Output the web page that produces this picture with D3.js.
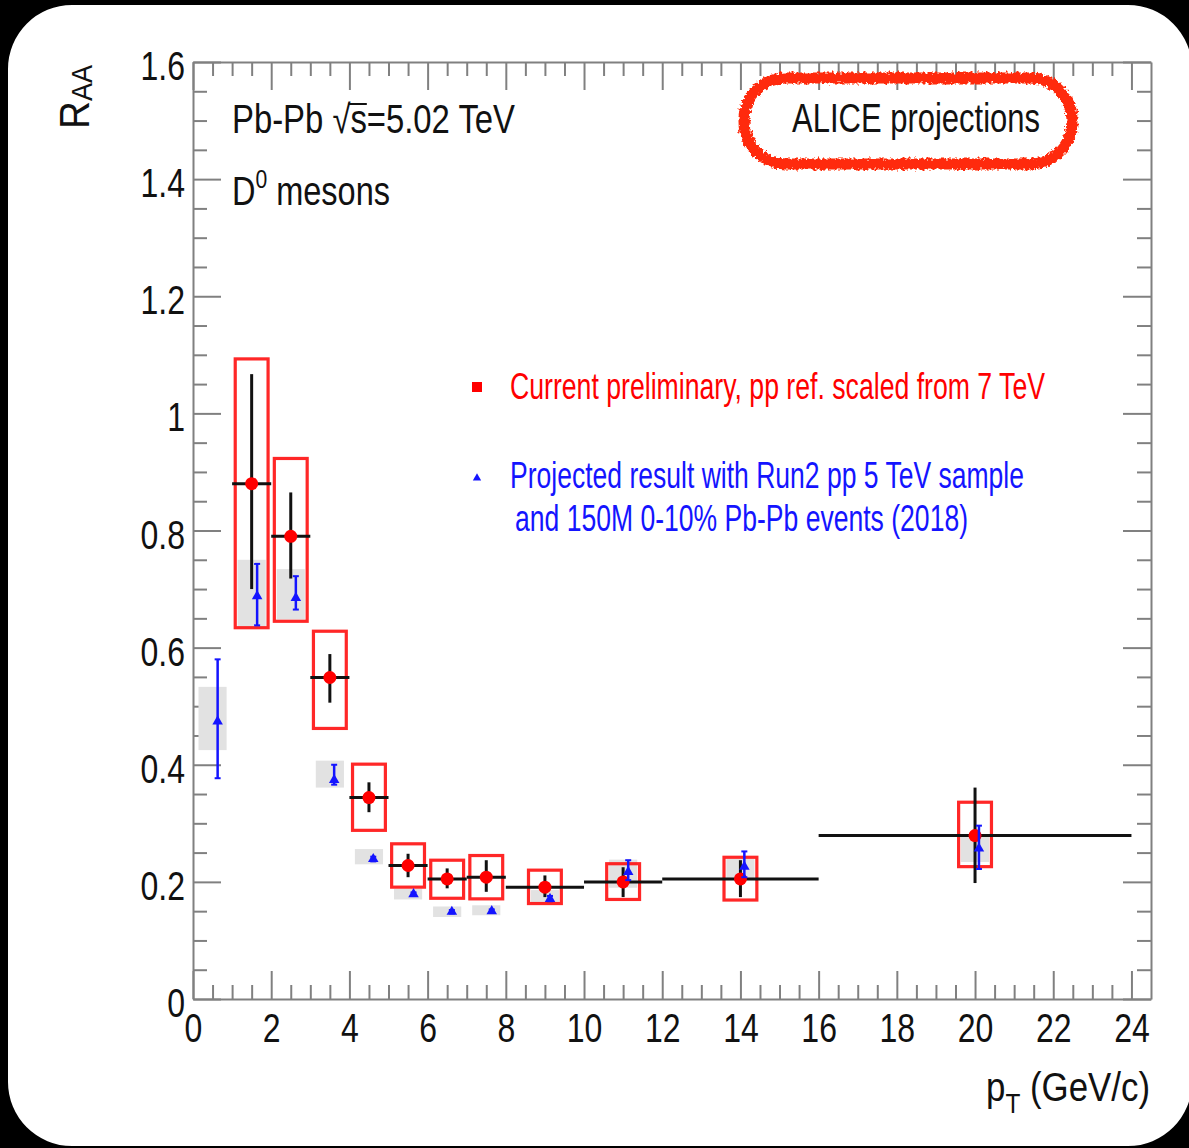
<!DOCTYPE html>
<html>
<head>
<meta charset="utf-8">
<script src="https://cdn.jsdelivr.net/npm/d3@7"></script>
<style>
  html, body { margin: 0; padding: 0; background: #fff; overflow: hidden; }
  svg { display: block; font-family: "Liberation Sans", Arial, Helvetica, sans-serif; }
</style>
</head>
<body>
<svg id="chart"></svg>
<script>
// current preliminary D0 RAA (red), pT bins in GeV/c
const binLow = [1, 2, 3, 4, 5, 6, 7, 8, 10, 12, 16];
const binHigh = [2, 3, 4, 5, 6, 7, 8, 10, 12, 16, 24];
const curPt = [1.5, 2.5, 3.5, 4.5, 5.5, 6.5, 7.5, 9, 11, 14, 20];
const curRaa = [0.880, 0.790, 0.549, 0.344, 0.228, 0.205, 0.208, 0.191, 0.200, 0.205, 0.279];
const curStatLo = [0.700, 0.718, 0.506, 0.319, 0.208, 0.189, 0.183, 0.174, 0.174, 0.174, 0.198];
const curStatHi = [1.067, 0.865, 0.589, 0.370, 0.248, 0.223, 0.237, 0.211, 0.225, 0.237, 0.361];
const curSysLo = [0.634, 0.645, 0.462, 0.288, 0.191, 0.172, 0.171, 0.163, 0.170, 0.169, 0.226];
const curSysHi = [1.093, 0.923, 0.628, 0.401, 0.265, 0.237, 0.245, 0.220, 0.231, 0.242, 0.336];

// projection (blue), drawn slightly shifted in pT
const projBin = [0.5, 1.5, 2.5, 3.5, 4.5, 5.5, 6.5, 7.5, 9, 11, 14, 20];
const projPt = [0.63, 1.64, 2.63, 3.61, 4.61, 5.64, 6.62, 7.64, 9.13, 11.13, 14.1, 20.1];
const projRaa = [0.474, 0.688, 0.685, 0.374, 0.239, 0.179, 0.149, 0.150, 0.171, 0.217, 0.226, 0.257];
const projErrLo = [0.377, 0.638, 0.665, 0.366, 0.235, 0.176, 0.146, 0.147, 0.167, 0.203, 0.208, 0.222];
const projErrHi = [0.580, 0.743, 0.722, 0.400, 0.243, 0.182, 0.152, 0.153, 0.176, 0.237, 0.252, 0.296];
const projSysLo = [0.425, 0.634, 0.648, 0.361, 0.230, 0.170, 0.140, 0.143, 0.163, 0.190, 0.203, 0.234];
const projSysHi = [0.533, 0.750, 0.734, 0.407, 0.256, 0.188, 0.158, 0.160, 0.186, 0.238, 0.239, 0.279];

// axis ticks
const xMajor = [0, 2, 4, 6, 8, 10, 12, 14, 16, 18, 20, 22, 24];
const yMajor = [0, 0.2, 0.4, 0.6, 0.8, 1, 1.2, 1.4, 1.6];
const xMinor = d3.range(0, 48).map((i) => i * 0.5).filter((v) => v % 2 !== 0);
const yMinor = d3.range(0, 33).map((i) => +(i * 0.05).toFixed(2)).filter((v) => Math.abs(v * 5 - Math.round(v * 5)) > 1e-6);

const W = 1189, H = 1148;
const svg = d3.select('#chart').attr('width', W).attr('height', H)
  .style('width', W + 'px').style('height', H + 'px');

// SETUP card
const defs = svg.append('defs');
const rough = defs.append('filter').attr('id', 'rough')
  .attr('x', '-10%').attr('y', '-20%').attr('width', '120%').attr('height', '140%');
rough.append('feTurbulence').attr('type', 'fractalNoise').attr('baseFrequency', 0.35)
  .attr('numOctaves', 2).attr('seed', 4).attr('result', 'n');
rough.append('feDisplacementMap').attr('in', 'SourceGraphic').attr('in2', 'n')
  .attr('scale', 7).attr('xChannelSelector', 'R').attr('yChannelSelector', 'G');

// black frame drawn as a path: outer rectangle minus rounded card
const cx0 = 8, cy0 = 5, cx1 = 1192, cy1 = 1146, r = 64;
const frame = d3.path();
frame.moveTo(0, 0); frame.lineTo(W, 0); frame.lineTo(W, H); frame.lineTo(0, H); frame.closePath();
frame.moveTo(cx0 + r, cy0);
frame.lineTo(cx1 - r, cy0); frame.arcTo(cx1, cy0, cx1, cy0 + r, r);
frame.lineTo(cx1, cy1 - r); frame.arcTo(cx1, cy1, cx1 - r, cy1, r);
frame.lineTo(cx0 + r, cy1); frame.arcTo(cx0, cy1, cx0, cy1 - r, r);
frame.lineTo(cx0, cy0 + r); frame.arcTo(cx0, cy0, cx0 + r, cy0, r);
frame.closePath();
svg.append('rect').attr('width', W).attr('height', H).attr('fill', '#fff');

const x = d3.scaleLinear().domain([0, 24.5]).range([193, 1151]);
const y = d3.scaleLinear().domain([0, 1.6]).range([999, 62]);

function squeeze(sel, k) {
  sel.each(function () {
    const w = this.getComputedTextLength();
    d3.select(this).attr('textLength', w * k).attr('lengthAdjust', 'spacingAndGlyphs');
  });
}

function styleAxis(g) {
  g.attr('font-family', null).attr('font-size', 40);
  g.selectAll('.domain').attr('stroke', '#808080').attr('stroke-width', 2);
  g.selectAll('.tick line').attr('stroke', '#808080').attr('stroke-width', 2);
  g.selectAll('.tick text').attr('fill', '#111');
}

//AXES
const axes = svg.append('g');
const bottom = axes.append('g').attr('transform', 'translate(0,999)')
  .call(d3.axisBottom(x).tickValues(xMajor).tickSizeInner(-28).tickSizeOuter(0).tickPadding(15).tickFormat(d3.format('d')));
const left = axes.append('g').attr('transform', 'translate(193,0)')
  .call(d3.axisLeft(y).tickValues(yMajor).tickSizeInner(-28).tickSizeOuter(0).tickPadding(8).tickFormat(d3.format('~g')));
axes.append('g').attr('transform', 'translate(0,62)')
  .call(d3.axisTop(x).tickValues(xMajor).tickSizeInner(-28).tickSizeOuter(0).tickFormat(''));
axes.append('g').attr('transform', 'translate(1151,0)')
  .call(d3.axisRight(y).tickValues(yMajor).tickSizeInner(-28).tickSizeOuter(0).tickFormat(''));
// minor ticks
[[d3.axisBottom(x).tickValues(xMinor), 'translate(0,999)'],
 [d3.axisTop(x).tickValues(xMinor), 'translate(0,62)'],
 [d3.axisLeft(y).tickValues(yMinor), 'translate(193,0)'],
 [d3.axisRight(y).tickValues(yMinor), 'translate(1151,0)']].forEach(([ax, tr]) => {
  const g = axes.append('g').attr('transform', tr)
    .call(ax.tickSizeInner(-14).tickSizeOuter(0).tickFormat(''));
  g.select('.domain').remove();
});
axes.selectAll('g').call(styleAxis);
left.selectAll('.tick text').attr('dy', '0.44em');
squeeze(bottom.selectAll('.tick text'), 0.8);
squeeze(left.selectAll('.tick text'), 0.8);

//DATA
const plot = svg.append('g');
const idx = d3.range(curPt.length);
const pIdx = d3.range(projPt.length);
const boxHalf = 0.42, grayHalf = 0.36;

// projection systematics (gray boxes)
plot.selectAll('.psys').data(pIdx).enter().append('rect')
  .attr('x', (i) => x(projBin[i] - grayHalf))
  .attr('width', (i) => x(projBin[i] + grayHalf) - x(projBin[i] - grayHalf))
  .attr('y', (i) => y(projSysHi[i]))
  .attr('height', (i) => y(projSysLo[i]) - y(projSysHi[i]))
  .attr('fill', '#e2e2e2');

// current systematics (open red boxes)
plot.selectAll('.csys').data(idx).enter().append('rect')
  .attr('x', (i) => x(curPt[i] - boxHalf))
  .attr('width', (i) => x(curPt[i] + boxHalf) - x(curPt[i] - boxHalf))
  .attr('y', (i) => y(curSysHi[i]))
  .attr('height', (i) => y(curSysLo[i]) - y(curSysHi[i]))
  .attr('fill', 'none').attr('stroke', '#ff1010').attr('stroke-width', 3.2).attr('stroke-opacity', 0.9);

// bin widths and stat errors
plot.selectAll('.cbin').data(idx).enter().append('line')
  .attr('x1', (i) => x(binLow[i])).attr('x2', (i) => x(binHigh[i]))
  .attr('y1', (i) => y(curRaa[i])).attr('y2', (i) => y(curRaa[i]))
  .attr('stroke', '#111').attr('stroke-width', 3);
plot.selectAll('.cstat').data(idx).enter().append('line')
  .attr('x1', (i) => x(curPt[i])).attr('x2', (i) => x(curPt[i]))
  .attr('y1', (i) => y(curStatLo[i])).attr('y2', (i) => y(curStatHi[i]))
  .attr('stroke', '#111').attr('stroke-width', 3);
plot.selectAll('.cpt').data(idx).enter().append('circle')
  .attr('cx', (i) => x(curPt[i])).attr('cy', (i) => y(curRaa[i]))
  .attr('r', 6.5).attr('fill', '#ff0000');

// projection errors and markers
plot.selectAll('.perr').data(pIdx).enter().append('line')
  .attr('x1', (i) => x(projPt[i])).attr('x2', (i) => x(projPt[i]))
  .attr('y1', (i) => y(projErrLo[i])).attr('y2', (i) => y(projErrHi[i]))
  .attr('stroke', '#1414ff').attr('stroke-width', 2.5);
['lo', 'hi'].forEach((side) => {
  const arr = side === 'lo' ? projErrLo : projErrHi;
  plot.selectAll('.pcap' + side).data(pIdx).enter().append('line')
    .attr('x1', (i) => x(projPt[i]) - 3).attr('x2', (i) => x(projPt[i]) + 3)
    .attr('y1', (i) => y(arr[i])).attr('y2', (i) => y(arr[i]))
    .attr('stroke', '#1414ff').attr('stroke-width', 2);
});
const tri = d3.symbol(d3.symbolTriangle).size(48);
plot.selectAll('.ppt').data(pIdx).enter().append('path')
  .attr('transform', (i) => `translate(${x(projPt[i])},${y(projRaa[i])})`)
  .attr('d', tri).attr('fill', '#1414ff');

//TEXTS
const txt = svg.append('g').attr('fill', '#111');

const t1 = txt.append('text').attr('x', 232).attr('y', 133).attr('font-size', 40);
t1.append('tspan').text('Pb-Pb ');
t1.append('tspan').text('\u221A');
t1.append('tspan').text('s=5.02 TeV');
t1.attr('textLength', 283).attr('lengthAdjust', 'spacingAndGlyphs');
// overline of the square root
const sExt = t1.node().getExtentOfChar(7);
const rExt = t1.node().getExtentOfChar(6);
txt.append('line')
  .attr('x1', rExt.x + rExt.width - 2).attr('x2', sExt.x + sExt.width)
  .attr('y1', 104).attr('y2', 104).attr('stroke', '#111').attr('stroke-width', 2);

const t2 = txt.append('text').attr('x', 232).attr('y', 205).attr('font-size', 40);
t2.append('tspan').text('D');
t2.append('tspan').attr('font-size', 26).attr('dy', -17).text('0');
t2.append('tspan').attr('dy', 17).text(' mesons');
t2.attr('textLength', 158).attr('lengthAdjust', 'spacingAndGlyphs');

txt.append('text').attr('x', 792).attr('y', 132).attr('font-size', 40)
  .attr('textLength', 248).attr('lengthAdjust', 'spacingAndGlyphs')
  .text('ALICE projections');

// hand drawn red ring
svg.append('rect')
  .attr('x', 744).attr('y', 78).attr('width', 328).attr('height', 86).attr('rx', 42)
  .attr('fill', 'none').attr('stroke', '#ff2a0c').attr('stroke-width', 11)
  .attr('filter', 'url(#rough)');

// legend
svg.append('rect').attr('x', 472).attr('y', 382).attr('width', 10).attr('height', 10).attr('fill', '#ff0000');
svg.append('path').attr('transform', 'translate(477,478)').attr('d', d3.symbol(d3.symbolTriangle).size(30)).attr('fill', '#1414ff');
svg.append('text').attr('x', 510).attr('y', 399).attr('font-size', 36).attr('fill', '#ff0000')
  .attr('textLength', 535).attr('lengthAdjust', 'spacingAndGlyphs')
  .text('Current preliminary, pp ref. scaled from 7 TeV');
svg.append('text').attr('x', 510).attr('y', 488).attr('font-size', 36).attr('fill', '#1414ff')
  .attr('textLength', 514).attr('lengthAdjust', 'spacingAndGlyphs')
  .text('Projected result with Run2 pp 5 TeV sample');
svg.append('text').attr('x', 515).attr('y', 531).attr('font-size', 36).attr('fill', '#1414ff')
  .attr('textLength', 453).attr('lengthAdjust', 'spacingAndGlyphs')
  .text('and 150M 0-10% Pb-Pb events (2018)');

// axis titles
const xt = txt.append('text').attr('x', 1150).attr('y', 1101).attr('font-size', 40).attr('text-anchor', 'end');
xt.append('tspan').text('p');
xt.append('tspan').attr('font-size', 28).attr('dy', 12).text('T');
xt.append('tspan').attr('dy', -12).text(' (GeV/c)');
xt.attr('textLength', 164).attr('lengthAdjust', 'spacingAndGlyphs');

const yt = txt.append('text').attr('transform', 'translate(89,129) rotate(-90)').attr('font-size', 43);
yt.append('tspan').text('R');
yt.append('tspan').attr('font-size', 30).attr('dy', 3).text('AA');
yt.attr('textLength', 64).attr('lengthAdjust', 'spacingAndGlyphs');

// black surround of the rounded card
svg.append('path').attr('d', frame.toString()).attr('fill', '#000').attr('fill-rule', 'evenodd');
</script>
</body>
</html>
